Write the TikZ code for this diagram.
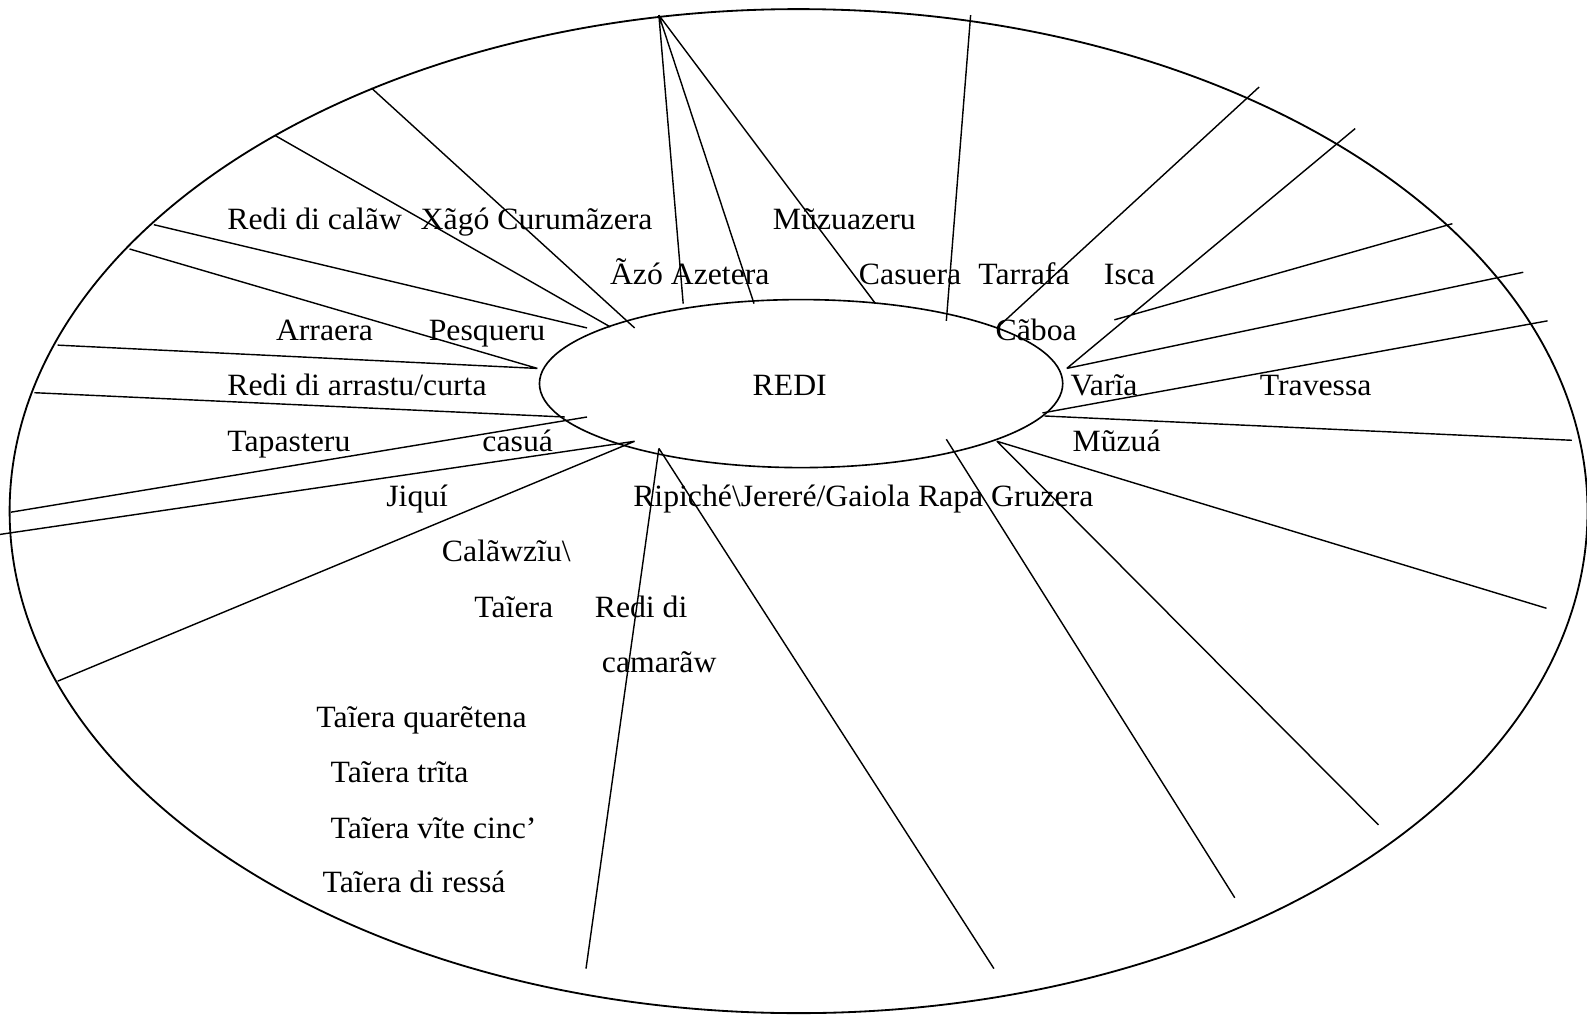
\documentclass[tikz,border=0pt]{standalone}
\usepackage{fontspec}
\setmainfont{Liberation Serif}[FakeStretch=1.025]
\usetikzlibrary{shapes.geometric}
\tikzset{lbl/.style={anchor=base west, inner sep=0pt, font=\fontsize{15.3}{17}\selectfont}}
\newcommand{\spk}[3]{\coordinate (#1) at (#2,#3);}

\begin{document}
\begin{tikzpicture}[x=0.5pt, y=-0.5pt, line width=0.7pt]
\useasboundingbox (0,0) rectangle (1568,1002);
\node[draw, ellipse, line width=0.9pt, inner sep=0pt, minimum width=779.5pt, minimum height=496pt] (mar) at (789,505) {};
\node[draw, ellipse, line width=0.8pt, inner sep=0pt, minimum width=258.5pt, minimum height=83pt] (redi) at (791.5,379) {};

% ends on the outer ring
\foreach \n/\x/\y in {top/651/15, o4/959/15, o5/1244/86, o6/1339/127, o7/1435/221, o8/1505/269,
  o9/1529/317, o10/1553/435, o11/1528/601, o12/1362/815, o13/1220/887, o14/982/957, o15/579/957,
  o16/57/673, o17/0/528, o18/11/506, o19/34/388, o20/57/341, o21/128/246, o22/152/222,
  o23/272/134, o24/367/87} {
  \spk{\n}{\x}{\y}
}
% ends at REDI
\foreach \n/\x/\y in {i1/675/300, i2/745/300, i3/865/300, i4/935/317, i5/985/324, i6/1054/364,
  i7/1101/316, i9/1030/408, i10/1032/411, i11/985/436, i13/935/434, i14/651/443, i16/627/436,
  i18/580/412, i19/558/412, i20/531/364, i22/580/324, i23/603/323, i24/627/324} {
  \spk{\n}{\x}{\y}
}

\draw (top) -- (i1) (top) -- (i2) (top) -- (i3) (o4) -- (i4) (o5) -- (i5) (o6) -- (i6) (i7) -- (o7) (i6) -- (o8);
\draw (i9) -- (o9) (i10) -- (o10) (i11) -- (o11) (i11) -- (o12) (i13) -- (o13) (i14) -- (o14) (i14) -- (o15);
\draw (i16) -- (o16) (i16) -- (o17) (i18) -- (o18) (i19) -- (o19) (i20) -- (o20) (i20) -- (o21) (i22) -- (o22) (i23) -- (o23) (i24) -- (o24);

\node[lbl] (redilbl) at (743,391) {REDI};
\node[lbl] (calaw) at (224,227) {Redi di calãw};
\node[lbl] (xago) at (415,227) {Xãgó Curumãzera};
\node[lbl] (muzuazeru) at (763,227) {Mũzuazeru};
\node[lbl] (azo) at (602,281) {Ãzó Azetera};
\node[lbl] (casuera) at (848,281) {Casuera};
\node[lbl] (tarrafa) at (966,281) {Tarrafa};
\node[lbl] (isca) at (1090,281) {Isca};
\node[lbl] (arraera) at (272,336) {Arraera};
\node[lbl] (pesqueru) at (423,336) {Pesqueru};
\node[lbl] (caboa) at (983,336) {Cãboa};
\node[lbl] (arrastu) at (224,391) {Redi di arrastu/curta};
\node[lbl] (varia) at (1057,391) {Varĩa};
\node[lbl] (travessa) at (1244,391) {Travessa};
\node[lbl] (tapasteru) at (224,446) {Tapasteru};
\node[lbl] (casua) at (476,446) {casuá};
\node[lbl] (muzua) at (1059,446) {Mũzuá};
\node[lbl] (jiqui) at (381,500) {Jiquí};
\node[lbl] (ripiche) at (625,500) {Ripiché\textbackslash Jereré/Gaiola Rapa Gruzera};
\node[lbl] (calawziu) at (436,555) {Calãwzĩu\textbackslash};
\node[lbl] (taiera) at (468,610) {Taĩera};
\node[lbl] (camarao) at (587,610) {Redi di};
\node[lbl] (camarao2) at (594,664) {camarãw};
\node[lbl] (t40) at (312,719) {Taĩera quarẽtena};
\node[lbl] (t30) at (326,773) {Taĩera trĩta};
\node[lbl] (t25) at (326,828) {Taĩera vĩte cinc’};
\node[lbl] (tressa) at (318,882) {Taĩera di ressá};
\end{tikzpicture}
\end{document}
